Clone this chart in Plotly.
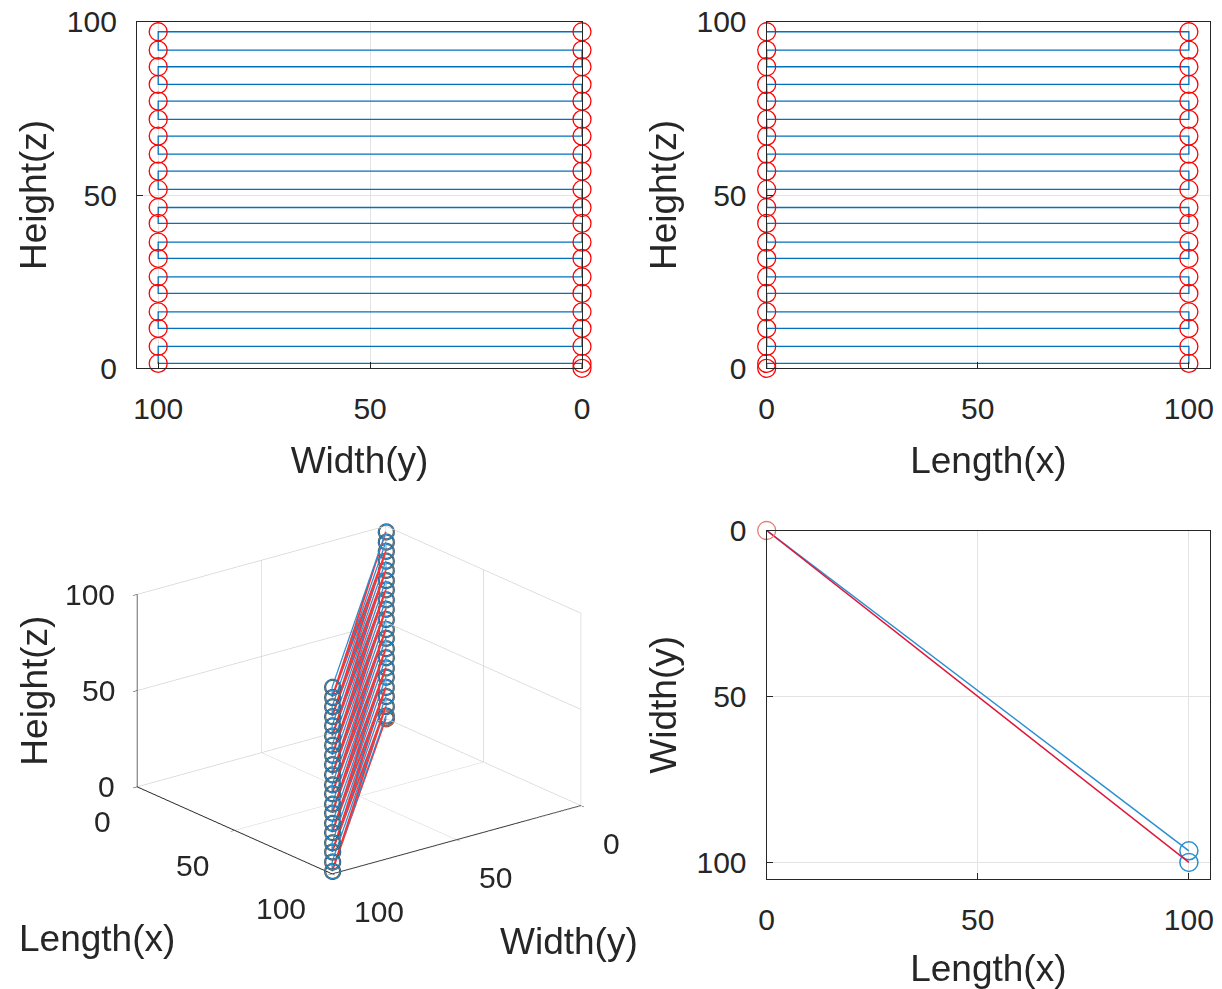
import plotly.graph_objects as go

# ---------------- data ----------------
z_levels = [1.4, 6.3, 11.5, 16.3, 21.6, 26.4, 31.7, 36.4, 41.8, 46.4,
            51.6, 56.9, 61.8, 67.0, 71.8, 77.1, 81.9, 87.0, 91.8, 97.1]
near_xy = [0, 0]          # (x, y) of the near end of every pass
far_xy = [100, 100]       # (x, y) of the far end of every pass
start_z = 0               # height of the start point
blue_extra_xy = [100, 96.5]  # extra blue point seen in the top view

axis_ticks = [0, 50, 100]
tick_text = ["0", "50", "100"]

# ---------------- build paths ----------------
px, py, pz = [near_xy[0]], [near_xy[1]], [start_z]
for k, z in enumerate(z_levels):
    a, b = (near_xy, far_xy) if k % 2 == 0 else (far_xy, near_xy)
    px += [a[0], b[0]]
    py += [a[1], b[1]]
    pz += [z, z]

rx, ry, rz = [near_xy[0]], [near_xy[1]], [start_z]
for k, z in enumerate(z_levels):
    b = far_xy if k % 2 == 0 else near_xy
    rx.append(b[0]); ry.append(b[1]); rz.append(z)

BLUE = "#0072BD"
BLUE_L = "#2a8fd0"
RED = "#FF0000"
TXT = "#262626"
GRID = "#e3e3e3"
FONT = "Liberation Sans, Arial, sans-serif"
TICK_SIZE = 30
TITLE_SIZE = 37

fig = go.Figure()

# ---- top-left : Width(y) vs Height(z)
fig.add_trace(go.Scatter(x=py, y=pz, mode="lines", line=dict(color=BLUE, width=1.3),
                         xaxis="x", yaxis="y", showlegend=False, hoverinfo="skip"))
fig.add_trace(go.Scatter(x=py, y=pz, mode="markers", cliponaxis=False,
                         marker=dict(symbol="circle-open", size=18, color=RED, line=dict(width=1.3)),
                         xaxis="x", yaxis="y", showlegend=False, hoverinfo="skip"))

# ---- top-right : Length(x) vs Height(z)
fig.add_trace(go.Scatter(x=px, y=pz, mode="lines", line=dict(color=BLUE, width=1.3),
                         xaxis="x2", yaxis="y2", showlegend=False, hoverinfo="skip"))
fig.add_trace(go.Scatter(x=px, y=pz, mode="markers", cliponaxis=False,
                         marker=dict(symbol="circle-open", size=18, color=RED, line=dict(width=1.3)),
                         xaxis="x2", yaxis="y2", showlegend=False, hoverinfo="skip"))

# ---- bottom-right : Length(x) vs Width(y) (top view)
fig.add_trace(go.Scatter(x=[near_xy[0], blue_extra_xy[0]], y=[near_xy[1], blue_extra_xy[1]],
                         mode="lines", line=dict(color=BLUE_L, width=1.5),
                         xaxis="x3", yaxis="y3", showlegend=False, hoverinfo="skip"))
fig.add_trace(go.Scatter(x=[far_xy[0], blue_extra_xy[0]], y=[far_xy[1], blue_extra_xy[1]],
                         mode="markers", cliponaxis=False,
                         marker=dict(symbol="circle-open", size=18, color=BLUE_L, line=dict(width=1.5)),
                         xaxis="x3", yaxis="y3", showlegend=False, hoverinfo="skip"))
fig.add_trace(go.Scatter(x=px, y=py, mode="lines", line=dict(color="#e0183c", width=1.5),
                         xaxis="x3", yaxis="y3", showlegend=False, hoverinfo="skip"))
fig.add_trace(go.Scatter(x=[near_xy[0]], y=[near_xy[1]], mode="markers", cliponaxis=False,
                         marker=dict(symbol="circle-open", size=18, color="#e08070", line=dict(width=1.3)),
                         xaxis="x3", yaxis="y3", showlegend=False, hoverinfo="skip"))

# ---- bottom-left : 3-D view
fig.add_trace(go.Scatter3d(x=rx, y=ry, z=rz, mode="lines",
                           line=dict(color="#ff3030", width=3.5), showlegend=False, hoverinfo="skip",
                           scene="scene"))
fig.add_trace(go.Scatter3d(x=px, y=py, z=pz, mode="lines+markers",
                           line=dict(color=BLUE_L, width=2.5),
                           marker=dict(symbol="circle-open", size=9.5, color=BLUE_L, line=dict(width=2)),
                           showlegend=False, hoverinfo="skip", scene="scene"))
fig.add_trace(go.Scatter3d(x=[near_xy[0]], y=[near_xy[1]], z=[start_z], mode="markers",
                           marker=dict(symbol="circle-open", size=9.5, color="#e06040", line=dict(width=2)),
                           showlegend=False, hoverinfo="skip", scene="scene"))


def ax2d(domain, rng, title, anchor, title_standoff, lbl_standoff):
    return dict(domain=domain, range=rng, anchor=anchor, automargin=False,
                tickvals=axis_ticks, ticktext=tick_text,
                showline=True, mirror=True, linecolor=TXT, linewidth=1.3,
                ticks="inside", ticklen=6, tickcolor=TXT, tickwidth=1,
                showgrid=True, gridcolor=GRID, gridwidth=1, zeroline=False,
                tickfont=dict(family=FONT, size=TICK_SIZE, color=TXT),
                ticklabelstandoff=lbl_standoff,
                title=dict(text=title, font=dict(family=FONT, size=TITLE_SIZE, color=TXT),
                           standoff=title_standoff))


W, H = 1222, 989

def dx(a, b):
    return [a / W, b / W]

def dy(top, bot):
    return [1 - bot / H, 1 - top / H]

layout = dict(
    width=W, height=H, paper_bgcolor="white", plot_bgcolor="white",
    margin=dict(l=0, r=0, t=0, b=0, autoexpand=False), showlegend=False,
    xaxis=ax2d(dx(137, 582), [105, 0], "Width(y)", "y", 22, 14),
    yaxis=ax2d(dy(21.7, 368.3), [0, 100], "Height(z)", "x", 8, 13),
    xaxis2=ax2d(dx(766.7, 1210), [0, 105], "Length(x)", "y2", 22, 14),
    yaxis2=ax2d(dy(21.7, 368.3), [0, 100], "Height(z)", "x2", 8, 13),
    xaxis3=ax2d(dx(766.7, 1210), [0, 105], "Length(x)", "y3", 22, 14),
    yaxis3=ax2d(dy(530.5, 879), [105, 0], "Width(y)", "x3", 8, 13),
)

def ax3d(rng):
    return dict(title=dict(text=""), range=rng, tickvals=axis_ticks,
                showticklabels=False,
                showgrid=True, gridcolor="#d4d4d4", gridwidth=1.5,
                showline=True, linecolor=TXT, linewidth=2,
                showbackground=False, zeroline=False, showspikes=False,
                ticks="outside", ticklen=5, tickcolor=TXT)

# tick labels / titles of the 3-D axes, attached to the 3-D data coordinates
tfont = dict(family=FONT, size=TICK_SIZE, color=TXT)
lfont = dict(family=FONT, size=TITLE_SIZE, color=TXT)
ann3d = []
for t, s in zip(axis_ticks, tick_text):
    ann3d.append(dict(x=t, y=100, z=0, text=s, showarrow=False, font=tfont,
                      xanchor="right", yanchor="middle", xshift=-24, yshift=-35))
    ann3d.append(dict(x=100, y=t, z=0, text=s, showarrow=False, font=tfont,
                      xanchor="left", yanchor="middle", xshift=20, yshift=-38))
    ann3d.append(dict(x=0, y=100, z=t, text=s, showarrow=False, font=tfont,
                      xanchor="right", yanchor="middle", xshift=-20, yshift=0))
ann3d.append(dict(x=50, y=100, z=0, text="Length(x)", showarrow=False, font=lfont,
                  xanchor="center", yanchor="middle", xshift=-138, yshift=-108))
ann3d.append(dict(x=100, y=50, z=0, text="Width(y)", showarrow=False, font=lfont,
                  xanchor="center", yanchor="middle", xshift=112, yshift=-102))
ann3d.append(dict(x=0, y=100, z=50, text="Height(z)", showarrow=False, font=lfont,
                  textangle=-90, xanchor="center", yanchor="middle", xshift=-102, yshift=0))

r = 1.6
layout["scene"] = dict(
    domain=dict(x=dx(0, 718), y=dy(440, 960)),
    xaxis=ax3d([0, 100]), yaxis=ax3d([100, 0]), zaxis=ax3d([0, 100]),
    aspectmode="manual", aspectratio=dict(x=1.216, y=1.216, z=0.79),
    camera=dict(eye=dict(x=0.737 * r, y=-0.578 * r, z=0.350 * r),
                center=dict(x=0, y=0, z=0), up=dict(x=0, y=0, z=1),
                projection=dict(type="orthographic")),
    bgcolor="rgba(0,0,0,0)",
    annotations=ann3d,
)

fig.update_layout(**layout)
fig.write_html("out.html", config={"displayModeBar": False},
               post_script="document.body.style.margin='0px';document.body.style.padding='0px';")
